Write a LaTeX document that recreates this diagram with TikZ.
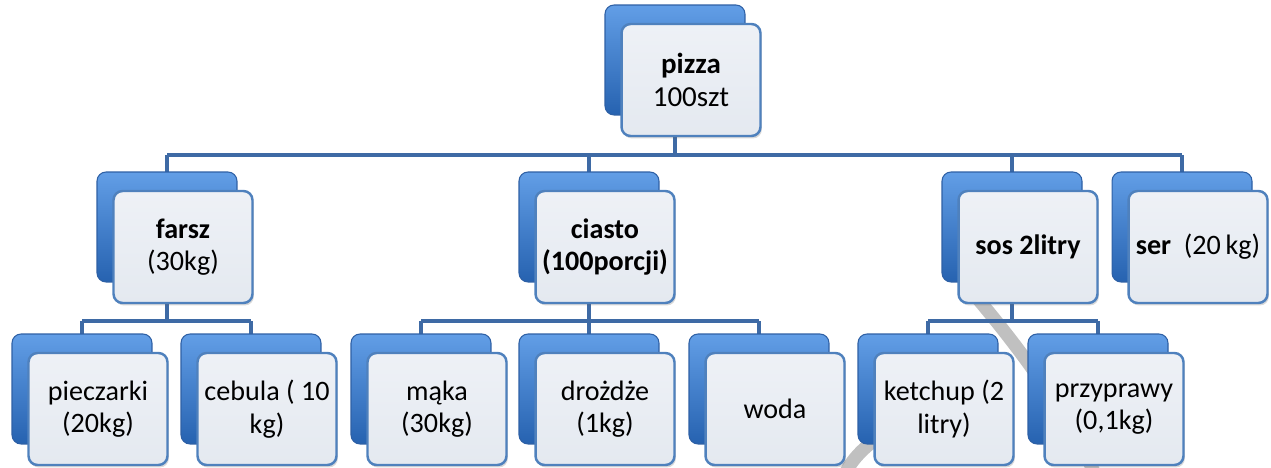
\documentclass[tikz,border=0pt]{standalone}
\usepackage{fontspec}
\setmainfont{Carlito}
\usetikzlibrary{backgrounds,shadows}
\definecolor{bluetop}{RGB}{98,158,230}
\definecolor{bluemid}{RGB}{62,128,208}
\definecolor{bluebot}{RGB}{38,98,176}
\definecolor{blueedge}{RGB}{46,96,165}
\definecolor{fronttop}{RGB}{238,241,246}
\definecolor{frontbot}{RGB}{228,233,240}
\definecolor{frontedge}{RGB}{79,129,189}
\definecolor{conn}{RGB}{62,106,165}
\definecolor{grayarc}{RGB}{192,192,192}
\tikzset{
  backbox/.style={rectangle, rounded corners=0.18cm, minimum width=2.8cm, minimum height=2.2cm,
    top color=bluetop, middle color=bluemid, bottom color=bluebot, draw=blueedge, line width=0.6pt},
  frontbox/.style={rectangle, rounded corners=0.18cm, minimum width=2.78cm, minimum height=2.24cm,
    top color=fronttop, bottom color=frontbot, draw=frontedge, line width=1.4pt, align=center,
    font=\fontsize{16}{18.5}\selectfont, inner sep=2pt,
    drop shadow={shadow xshift=0.8pt, shadow yshift=-1.4pt, opacity=0.25, fill=black!60}},
  connector/.style={draw=conn, line width=2.8pt},
  grayline/.style={draw=grayarc, line width=7.5pt, line cap=round}
}
\newcommand{\elem}[4]{%
  \node[backbox] (#1b) at (#2,#3) {};
  \node[frontbox] (#1) at (#2+16,#3+20) {#4};}
\begin{document}
\begin{tikzpicture}[x=0.02cm, y=-0.02cm]
\useasboundingbox (0,0) rectangle (1271,467);
\coordinate (bar1) at (0,155);
\coordinate (bar2) at (0,321);
% elements
\elem{pizza}{675}{60}{\fontsize{16.5}{20}\selectfont\textbf{pizza}\\\fontsize{16.5}{20}\selectfont 100szt}
\elem{farsz}{167}{227}{\textbf{farsz}\\(30kg)}
\elem{ciasto}{589}{227}{\textbf{ciasto}\\\textbf{(100porcji)}}
\elem{sos}{1012}{227}{\textbf{sos 2litry}}
\elem{ser}{1182}{227}{\textbf{ser}\ \ (20\,kg)}
\elem{pieczarki}{82}{389}{pieczarki\\(20kg)}
\elem{cebula}{251}{389}{cebula ( 10\\kg)}
\elem{maka}{421}{389}{mąka\\(30kg)}
\elem{drozdze}{589}{389}{drożdże\\(1kg)}
\elem{woda}{759}{389}{woda}
\elem{ketchup}{928}{389}{ketchup (2\\litry)}
\elem{przyprawy}{1098}{389}{przyprawy\\(0,1kg)}
\begin{pgfonlayer}{background}
  % gray strokes behind everything
  \draw[grayline] (972,292) .. controls (1030,360) and (1070,420) .. (1094,472);
  \draw[grayline] (886,432) .. controls (866,445) and (853,458) .. (846,472);
  % level 1
  \draw[connector] (pizzab.center) -- (pizzab.center |- bar1);
  \draw[connector] (farszb.center |- bar1) -- (serb.center |- bar1);
  \foreach \n in {farsz,ciasto,sos,ser}
    \draw[connector] (\n b.center |- bar1) -- (\n b.center);
  % farsz children
  \draw[connector] (farszb.center) -- (farszb.center |- bar2);
  \draw[connector] (pieczarkib.center |- bar2) -- (cebulab.center |- bar2);
  \foreach \n in {pieczarki,cebula}
    \draw[connector] (\n b.center |- bar2) -- (\n b.center);
  % ciasto children
  \draw[connector] (ciastob.center) -- (ciastob.center |- bar2);
  \draw[connector] (makab.center |- bar2) -- (wodab.center |- bar2);
  \foreach \n in {maka,drozdze,woda}
    \draw[connector] (\n b.center |- bar2) -- (\n b.center);
  % sos children
  \draw[connector] (sosb.center) -- (sosb.center |- bar2);
  \draw[connector] (ketchupb.center |- bar2) -- (przyprawyb.center |- bar2);
  \foreach \n in {ketchup,przyprawy}
    \draw[connector] (\n b.center |- bar2) -- (\n b.center);
\end{pgfonlayer}
\end{tikzpicture}
\end{document}
